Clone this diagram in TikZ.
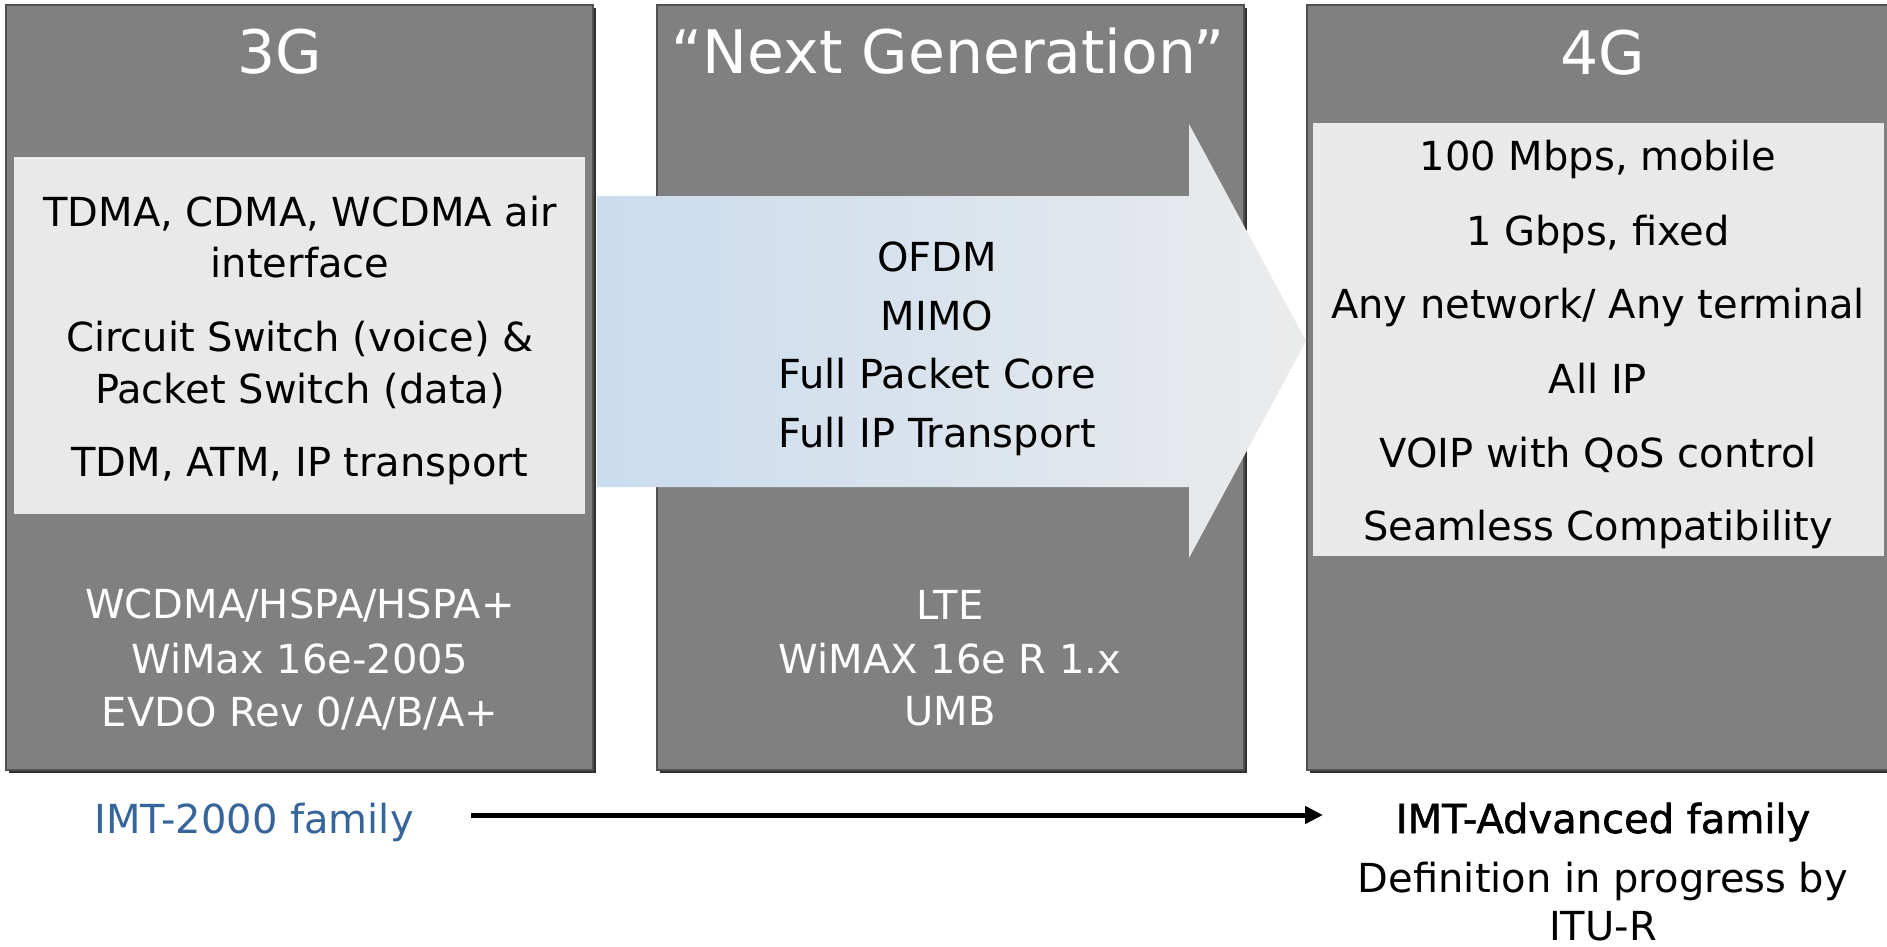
\documentclass[tikz,border=0pt]{standalone}
\usepackage{fontspec}
\setmainfont{DejaVu Sans}
\newfontface\fakebf{DejaVu Sans}[FakeBold=1.5]
\usetikzlibrary{arrows.meta}

\definecolor{boxgray}{HTML}{808080}
\definecolor{boxedge}{HTML}{505050}
\definecolor{boxshadow}{HTML}{303030}
\definecolor{panelgray}{HTML}{E9E9E9}
\definecolor{arrowblue}{HTML}{CADCEE}
\definecolor{arrowgray}{HTML}{EBEBEB}
\definecolor{imtblue}{HTML}{35659A}

\begin{document}
\begin{tikzpicture}[
    x=1pt, y=-1pt,
    gen/.style={fill=boxgray, draw=boxedge, line width=1.5pt},
    shadow/.style={fill=boxshadow},
    panel/.style={fill=panelgray},
    head/.style={anchor=base, inner sep=0pt, text=white, font=\fontsize{60}{72}\selectfont},
    txt/.style={anchor=base, inner sep=0pt, font=\fontsize{40}{48}\selectfont},
    wtxt/.style={txt, text=white},
    timeline/.style={draw, line width=5pt, -{Triangle[length=18pt, width=17pt]}}
  ]
    \clip (0,0) rectangle (1887,947);

    % drei Spalten: 3G, Next Generation, 4G
    \def\W{587}
    \def\H{765}
    \foreach \x in {6,657,1307} {
      \fill[shadow] (\x+3,8) rectangle (\x+\W+3,\H+8);
      \draw[gen] (\x,5) rectangle (\x+\W,\H+5);
    }

    % helle Felder
    \fill[panel] (14,157) rectangle (585,514);
    \fill[panel] (1313,123) rectangle (1884,556);

    % grosser Pfeil
    \shade[left color=arrowblue, right color=arrowgray]
      (597,196) -- (1189,196) -- (1189,124) -- (1306,341)
      -- (1189,558) -- (1189,487) -- (597,487) -- cycle;

    % Titel
    \node[head] (h3g) at (280,74) {3G};
    \node[head] (hng) at (948,74) {“Next Generation”};
    \node[head] (h4g) at (1603,75) {4G};

    % 3G
    \foreach \y/\t [count=\i] in {226/{TDMA, CDMA, WCDMA air}, 277/interface,
        351/{Circuit Switch (voice) \&}, 403/{Packet Switch (data)},
        476/{TDM, ATM, IP transport}} {
      \node[txt] (g3-\i) at (300,\y) {\t};
    }
    \foreach \y/\t [count=\i] in {618/{WCDMA/HSPA/HSPA+}, 673/{WiMax 16e-2005},
        726/{EVDO Rev 0/A/B/A+}} {
      \node[wtxt] (g3s-\i) at (300,\y) {\t};
    }

    % Next Generation
    \foreach \y/\t [count=\i] in {271/OFDM, 330/MIMO, 388/{Full Packet Core},
        447/{Full IP Transport}} {
      \node[txt] (ng-\i) at (937,\y) {\t};
    }
    \foreach \y/\t [count=\i] in {619/LTE, 673/{WiMAX 16e R 1.x}, 725/UMB} {
      \node[wtxt] (ngs-\i) at (950,\y) {\t};
    }

    % 4G
    \foreach \y/\t [count=\i] in {170/{100 Mbps, mobile}, 245/{1 Gbps, fixed},
        318/{Any network/ Any terminal}, 393/{All IP},
        467/{VOIP with QoS control}, 540/{Seamless Compatibility}} {
      \node[txt] (g4-\i) at (1598,\y) {\t};
    }

    % Familien unten
    \node[txt, text=imtblue] (imt2000) at (254,833) {IMT-2000 family};
    \node[txt, font=\fontsize{40}{48}\fakebf] (imtadv) at (1603,833) {IMT-Advanced family};
    \node[txt] (itu1) at (1603,892) {Definition in progress by};
    \node[txt] (itu2) at (1603,940) {ITU-R};

    \coordinate (tl-a) at (471,815);
    \coordinate (tl-b) at (1323,815);
    \draw[timeline] (tl-a) -- (tl-b);
  \end{tikzpicture}
\end{document}
